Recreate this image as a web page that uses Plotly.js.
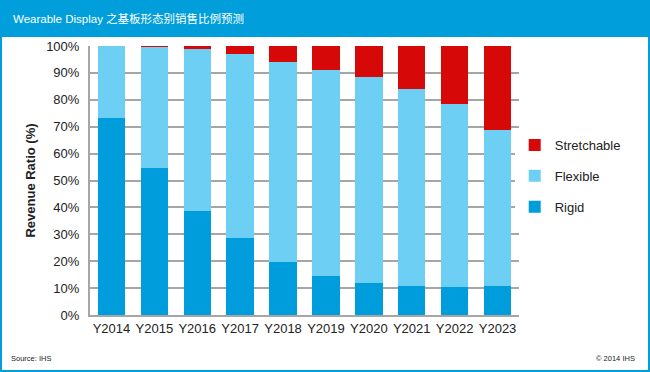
<!DOCTYPE html>
<html>
<head>
<meta charset="utf-8">
<script src="https://cdn.plot.ly/plotly-3.0.1.min.js"></script>
<style>html,body{margin:0;padding:0;background:#fff;overflow:hidden;width:650px;height:372px;}#chart{width:650px;height:372px;overflow:hidden;}</style>
</head>
<body>
<div id="chart"></div>
<script>
const categories = ["Y2014","Y2015","Y2016","Y2017","Y2018","Y2019","Y2020","Y2021","Y2022","Y2023"];
const rigid = [73.3, 54.8, 38.8, 28.6, 19.7, 14.5, 11.9, 10.8, 10.4, 10.8];
const stretchable = [0, 0.5, 1.1, 2.9, 5.8, 9.0, 11.6, 15.9, 21.6, 31.1];
const flexible = [26.7, 44.7, 60.1, 68.5, 74.5, 76.5, 76.5, 73.3, 68.0, 58.1];
const yTickVals = [0,10,20,30,40,50,60,70,80,90,100];
const yTickText = ["0%","10%","20%","30%","40%","50%","60%","70%","80%","90%","100%"];

const W = 650, H = 372, L = 90, R = 131, T = 46, B = 57;
const pw = W - L - R, ph = H - T - B;
const px = v => (v - L) / pw;
const py = v => (H - B - v) / ph;
const blue = "#009EDB";

const font = "Liberation Sans, Arial, sans-serif";
const traces = [
  {name:"Rigid", y:rigid, marker:{color:"#009DDC"}, rank:3},
  {name:"Flexible", y:flexible, marker:{color:"#6ECFF5"}, rank:2},
  {name:"Stretchable", y:stretchable, marker:{color:"#D70808"}, rank:1}
].map((t,i) => ({type:"bar", x:categories, y:t.y, name:t.name, marker:t.marker, legendgroup:"g"+i, legendrank:t.rank, width:0.64, hoverinfo:"none"}));

const layout = {
  width:W, height:H,
  margin:{l:L, r:R, t:T, b:B},
  paper_bgcolor:"#fff", plot_bgcolor:"#fff",
  barmode:"stack",
  font:{family:font, color:"#222", size:13},
  showlegend:true,
  legend:{x:0.99, y:0.688, xanchor:"left", yanchor:"top", traceorder:"grouped", tracegroupgap:11, font:{size:13, color:"#222"}, itemwidth:30},
  xaxis:{showline:true, linecolor:"#A6A6A6", linewidth:2, ticks:"", tickfont:{size:13, color:"#222"}, fixedrange:true},
  yaxis:{range:[0,100], tickvals:yTickVals, ticktext:yTickText, showgrid:true, gridcolor:"#A6A6A6", gridwidth:2, showline:true, linecolor:"#A6A6A6", linewidth:2, zeroline:false, ticks:"", ticklen:0, ticklabelstandoff:6, tickfont:{size:13, color:"#222"},
    title:{text:"<b>Revenue Ratio (%)</b>", font:{size:13, color:"#222"}, standoff:8}},
  shapes:[
    {type:"rect", xref:"paper", yref:"paper", x0:px(0), x1:px(W), y0:py(37), y1:py(0), fillcolor:blue, line:{width:0}, layer:"above"},
    {type:"rect", xref:"paper", yref:"paper", x0:px(0), x1:px(2), y0:py(H), y1:py(0), fillcolor:blue, line:{width:0}},
    {type:"rect", xref:"paper", yref:"paper", x0:px(W-2), x1:px(W), y0:py(H), y1:py(0), fillcolor:blue, line:{width:0}},
    {type:"rect", xref:"paper", yref:"paper", x0:px(0), x1:px(W), y0:py(H), y1:py(H-2), fillcolor:blue, line:{width:0}}
  ],
  annotations:[
    {text:"Wearable Display 之基板形态别销售比例预测", xref:"paper", yref:"paper", x:px(11), y:py(18), xanchor:"left", yanchor:"middle", showarrow:false, font:{family:"Liberation Sans, Noto Sans CJK SC, sans-serif", size:11.5, color:"#fff"}},
    {text:"Source: IHS", xref:"paper", yref:"paper", x:px(9), y:py(358), xanchor:"left", yanchor:"middle", showarrow:false, font:{size:7.5, color:"#222"}},
    {text:"© 2014 IHS", xref:"paper", yref:"paper", x:px(637), y:py(358), xanchor:"right", yanchor:"middle", showarrow:false, font:{size:7.5, color:"#222"}}
  ]
};

Plotly.newPlot("chart", traces, layout, {displayModeBar:false, staticPlot:true});
</script>
</body>
</html>
